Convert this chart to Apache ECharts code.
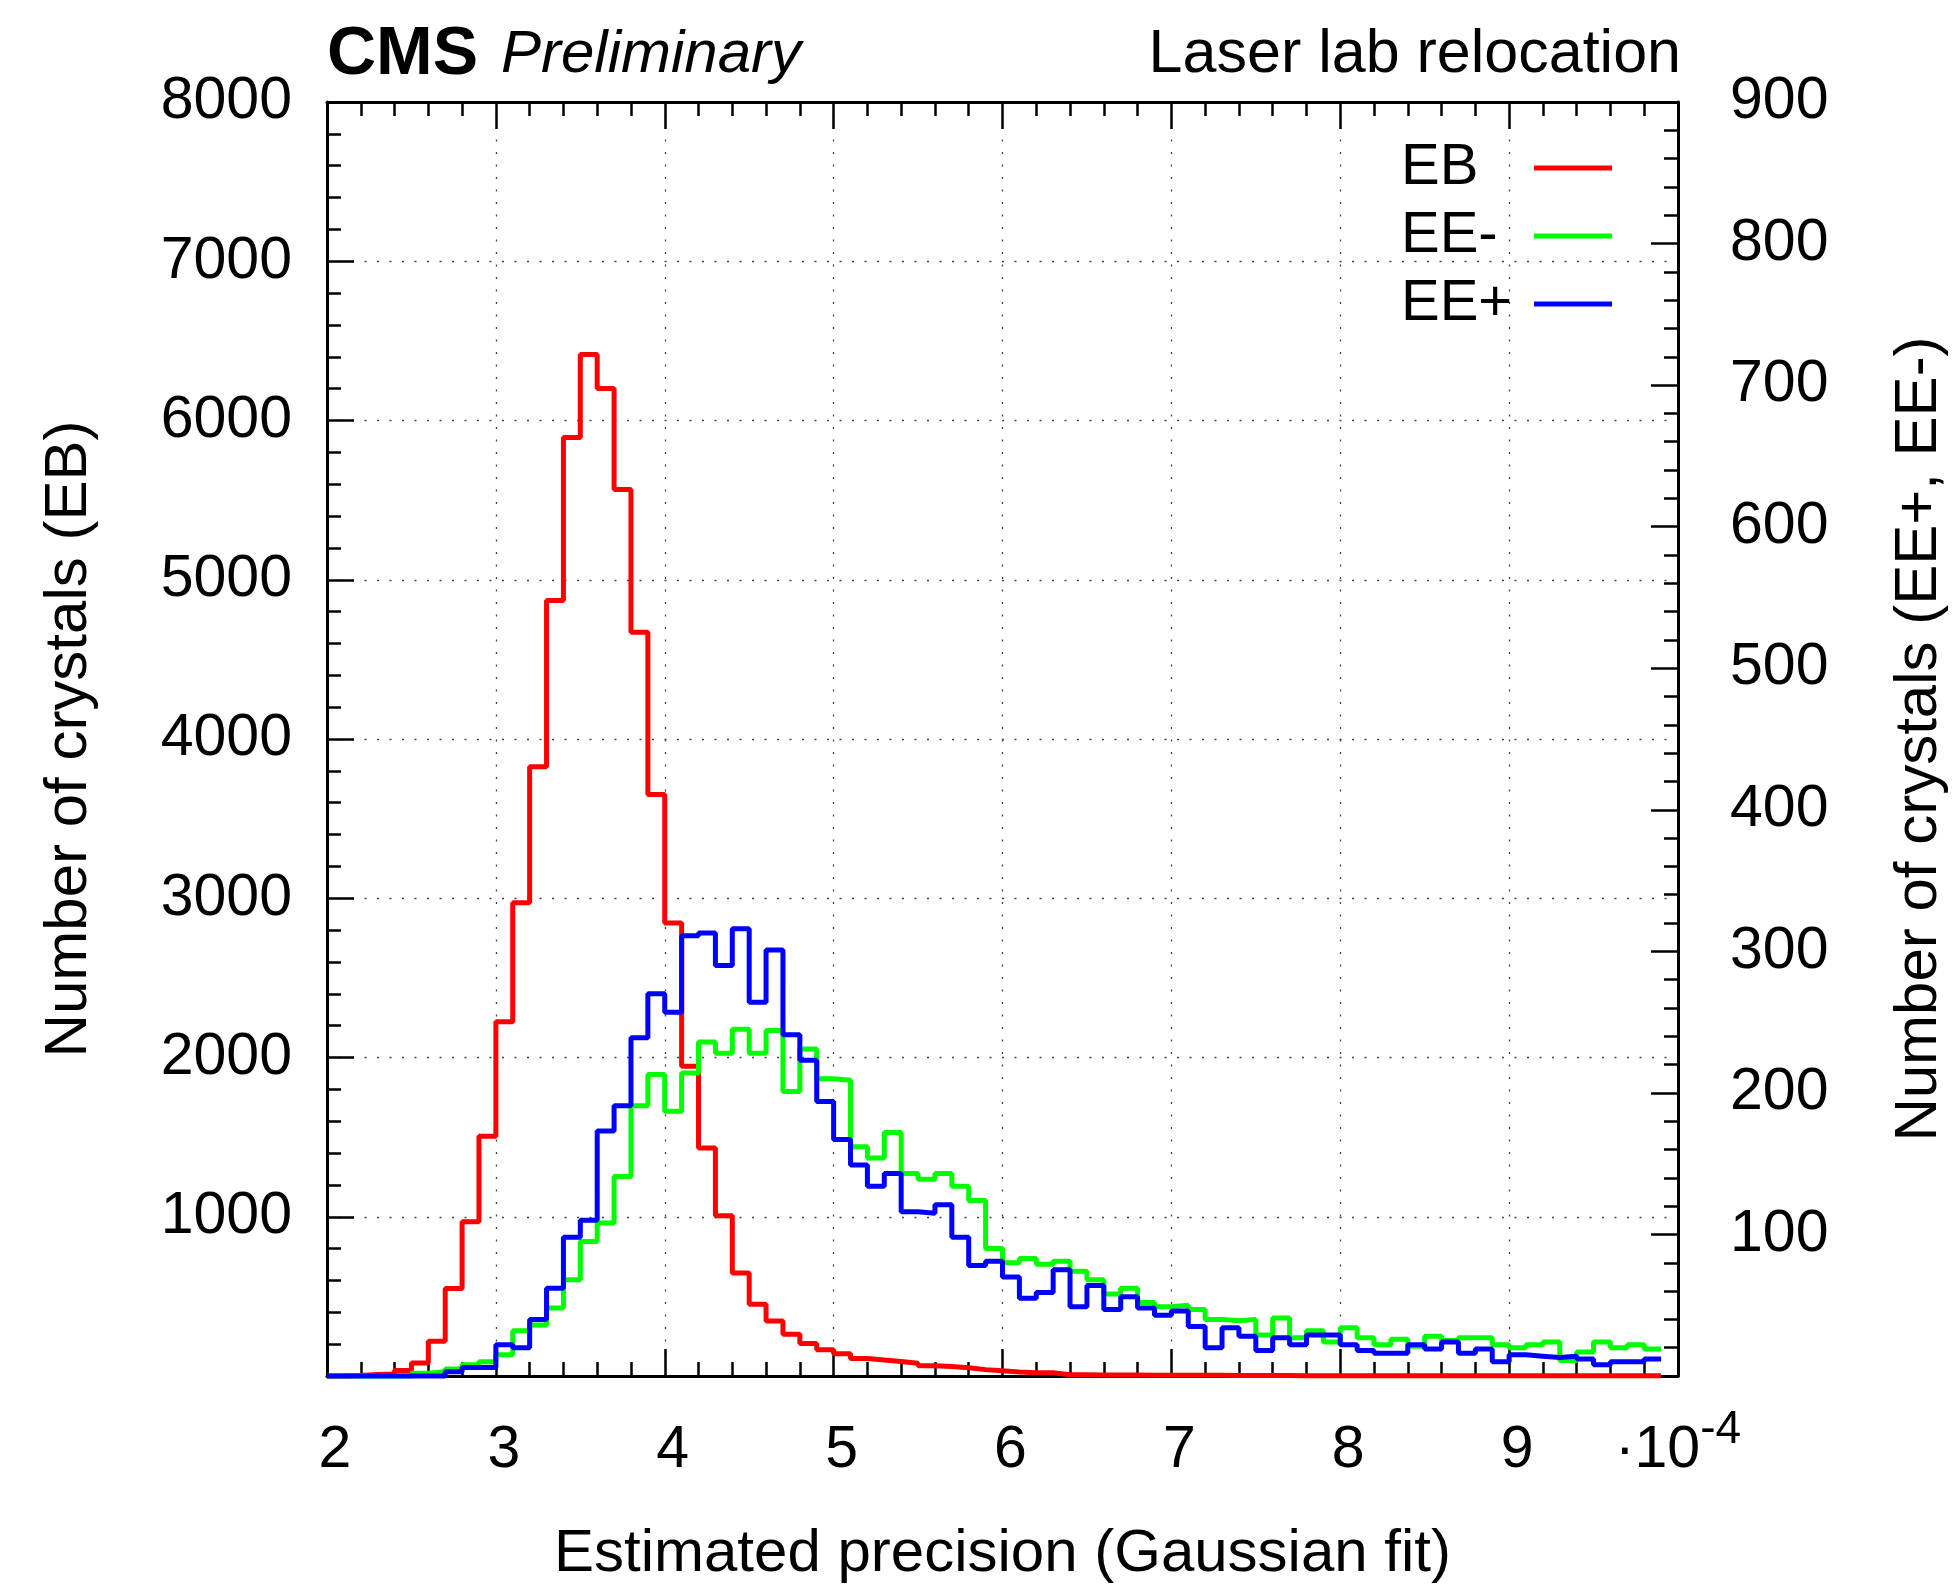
<!DOCTYPE html>
<html><head><meta charset="utf-8">
<script src="https://cdn.jsdelivr.net/npm/echarts@6/dist/echarts.min.js"></script>
<style>html,body{margin:0;padding:0;background:#fff}#c{width:1957px;height:1589px}</style>
</head><body><div id="c"></div>
<script>
// Bin edges (x10^-4), 79 bins from 2.0 to 9.9
const binEdges = [2.0,2.1,2.2,2.3,2.4,2.5,2.6,2.7,2.8,2.9,3.0,3.1,3.2,3.3,3.4,3.5,3.6,3.7,3.8,3.9,
  4.0,4.1,4.2,4.3,4.4,4.5,4.6,4.7,4.8,4.9,5.0,5.1,5.2,5.3,5.4,5.5,5.6,5.7,5.8,5.9,
  6.0,6.1,6.2,6.3,6.4,6.5,6.6,6.7,6.8,6.9,7.0,7.1,7.2,7.3,7.4,7.5,7.6,7.7,7.8,7.9,
  8.0,8.1,8.2,8.3,8.4,8.5,8.6,8.7,8.8,8.9,9.0,9.1,9.2,9.3,9.4,9.5,9.6,9.7,9.8,9.9];
const seriesNames = ['EB', 'EE-', 'EE+'];
const ebCounts = [0,3,10,12,35,81,218,550,968,1506,2224,2972,3825,4870,5894,6415,6201,5567,4670,3652,
  2845,1945,1432,1006,647,450,345,262,204,165,140,110,100,91,80,65,60,52,40,33,
  25,20,20,8,8,7,6,6,5,5,4,4,4,3,3,3,3,2,2,2,2,2,2,1,1,1,1,1,1,1,1,1,1,1,1,1,1,1,1];
const eeMinusCounts = [0,0,0,0,0,2,3,5,8,10,15,32,36,48,68,95,108,141,191,213,
  187,214,236,228,245,228,244,201,231,210,209,162,154,172,143,139,143,134,124,90,
  80,83,79,81,74,68,58,62,52,49,50,47,40,39,40,29,41,27,32,24,
  34,27,22,26,21,28,25,27,27,22,20,22,24,11,17,24,20,22,19];
const eePlusCounts = [0,0,0,0,0,0,0,3,6,6,22,20,40,62,98,110,173,191,239,270,
  257,311,313,290,316,264,301,241,223,194,167,149,134,143,116,115,121,98,78,81,
  70,55,59,75,49,64,47,56,48,43,46,35,20,34,28,18,27,22,29,29,
  22,18,16,16,22,19,24,16,19,10,15,14,13,14,12,8,10,10,12];
const xRange = [2, 10];
const yLeftRange = [0, 8000];
const yRightRange = [0, 900];

const FONT = "'Liberation Sans', Arial, Helvetica, sans-serif";

function steps(vals) {
  const d = vals.map((v, i) => [binEdges[i], v]);
  d.push([binEdges[vals.length], vals[vals.length - 1]]);
  return d;
}

const tickLine = {color: '#000', width: 2.5};
const axisLineStyle = {show: true, onZero: false, lineStyle: {color: '#000', width: 3}};
const gridLine = {show: true, lineStyle: {color: '#444', width: 1.3, type: [2, 10.5]}};

const chart = echarts.init(document.getElementById('c'), null, {renderer: 'canvas'});
chart.setOption({
  animation: false,
  backgroundColor: '#fff',
  textStyle: {fontFamily: FONT},
  grid: {left: 327, right: 276, top: 102, bottom: 204, containLabel: false},
  legend: {
    orient: 'vertical', left: 1396, top: 134, align: 'right',
    itemWidth: 78, itemHeight: 5, itemGap: 10, icon: 'rect',
    data: seriesNames,
    formatter: n => '{a|' + n + '}',
    textStyle: {color: '#000', fontSize: 58, fontFamily: FONT,
      rich: {a: {width: 128, align: 'left', fontSize: 58, lineHeight: 58, fontFamily: FONT, color: '#000'}}}
  },
  graphic: [
    {type: 'text', x: 327, y: 55, style: {text: 'CMS', fill: '#000', font: 'bold 68px ' + FONT,
      align: 'left', textAlign: 'left', verticalAlign: 'middle', textVerticalAlign: 'middle'}},
    {type: 'text', x: 501, y: 55, style: {text: 'Preliminary', fill: '#000', font: 'italic 60px ' + FONT,
      align: 'left', textAlign: 'left', verticalAlign: 'middle', textVerticalAlign: 'middle'}},
    {type: 'text', x: 1681, y: 55, style: {text: 'Laser lab relocation', fill: '#000', font: '61px ' + FONT,
      align: 'right', textAlign: 'right', verticalAlign: 'middle', textVerticalAlign: 'middle'}}
  ],
  xAxis: [
    {type: 'value', min: xRange[0], max: xRange[1], interval: 1, position: 'bottom',
      name: 'Estimated precision (Gaussian fit)', nameLocation: 'middle', nameGap: 148,
      nameTextStyle: {fontSize: 60, color: '#000', fontFamily: FONT},
      axisLine: axisLineStyle,
      axisTick: {show: true, inside: true, length: 27, lineStyle: tickLine},
      minorTick: {show: true, splitNumber: 5, length: 14, lineStyle: tickLine},
      splitLine: gridLine,
      axisLabel: {show: true, margin: 31, showMinLabel: true, showMaxLabel: true,
        color: '#000', fontSize: 59, fontFamily: FONT,
        formatter: v => v === 10 ? '{n|·10}{s|-4}' : '{p|' + v + '}',
        rich: {
          p: {fontSize: 59, fontFamily: FONT, color: '#000', padding: [14, 0, 0, 16]},
          n: {fontSize: 59, fontFamily: FONT, color: '#000', padding: [14, 0, 0, 0]},
          s: {fontSize: 46, fontFamily: FONT, color: '#000', lineHeight: 46, verticalAlign: 'top'}
        }}
    },
    {type: 'value', min: xRange[0], max: xRange[1], interval: 1, position: 'top',
      axisLine: axisLineStyle,
      axisTick: {show: true, inside: true, length: 27, lineStyle: tickLine},
      minorTick: {show: true, splitNumber: 5, length: 14, lineStyle: tickLine},
      splitLine: {show: false}, axisLabel: {show: false}
    }
  ],
  yAxis: [
    {type: 'value', min: yLeftRange[0], max: yLeftRange[1], interval: 1000, position: 'left',
      name: 'Number of crystals (EB)', nameLocation: 'middle', nameGap: 228, nameRotate: 90,
      nameTextStyle: {fontSize: 60, color: '#000', fontFamily: FONT},
      axisLine: axisLineStyle,
      axisTick: {show: true, inside: true, length: 27, lineStyle: tickLine},
      minorTick: {show: true, splitNumber: 5, length: 14, lineStyle: tickLine},
      splitLine: gridLine,
      axisLabel: {margin: 35, color: '#000', fontSize: 59, fontFamily: FONT, padding: [8, 0, 0, 0],
        formatter: v => v === 0 ? '' : String(v)}
    },
    {type: 'value', min: yRightRange[0], max: yRightRange[1], interval: 100, position: 'right',
      name: 'Number of crystals (EE+, EE-)', nameLocation: 'middle', nameGap: 211, nameRotate: 90,
      nameTextStyle: {fontSize: 60, color: '#000', fontFamily: FONT},
      axisLine: axisLineStyle,
      axisTick: {show: true, inside: true, length: 27, lineStyle: tickLine},
      minorTick: {show: true, splitNumber: 5, length: 14, lineStyle: tickLine},
      splitLine: {show: false},
      axisLabel: {margin: 52, color: '#000', fontSize: 59, fontFamily: FONT, padding: [8, 0, 0, 0],
        formatter: v => v === 0 ? '' : String(v)}
    }
  ],
  series: [
    {name: seriesNames[0], type: 'line', step: 'end', xAxisIndex: 0, yAxisIndex: 0,
      data: steps(ebCounts), symbol: 'none', clip: false, color: '#ff0000',
      lineStyle: {color: '#ff0000', width: 5}, z: 3},
    {name: seriesNames[1], type: 'line', step: 'end', xAxisIndex: 0, yAxisIndex: 1,
      data: steps(eeMinusCounts), symbol: 'none', clip: false, color: '#00ff00',
      lineStyle: {color: '#00ff00', width: 5}, z: 4},
    {name: seriesNames[2], type: 'line', step: 'end', xAxisIndex: 0, yAxisIndex: 1,
      data: steps(eePlusCounts), symbol: 'none', clip: false, color: '#0000ff',
      lineStyle: {color: '#0000ff', width: 5}, z: 5}
  ]
});
</script>
</body></html>
